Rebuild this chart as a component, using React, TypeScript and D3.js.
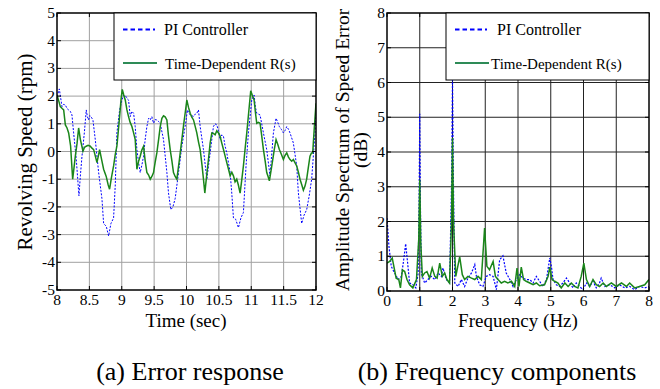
import React from "react";
import * as d3 from "d3";

// ---- Left plot data: time (s) vs speed error (rpm) ----
const tGreen = [8.0,8.03,8.051,8.08,8.103,8.129,8.155,8.18,8.21,8.242,8.262,8.283,8.31,8.334,8.36,8.401,8.425,8.452,8.48,8.514,8.54,8.566,8.59,8.617,8.64,8.658,8.69,8.72,8.76,8.79,8.812,8.84,8.874,8.9,8.925,8.945,8.967,8.99,9.008,9.03,9.054,9.08,9.105,9.13,9.157,9.18,9.208,9.234,9.26,9.285,9.31,9.337,9.36,9.388,9.415,9.44,9.465,9.491,9.515,9.542,9.57,9.594,9.62,9.645,9.67,9.697,9.72,9.748,9.775,9.799,9.825,9.851,9.89,9.928,9.955,9.979,10.005,10.03,10.057,10.08,10.108,10.135,10.159,10.185,10.211,10.24,10.262,10.283,10.31,10.339,10.365,10.391,10.415,10.442,10.468,10.494,10.519,10.545,10.571,10.595,10.622,10.65,10.674,10.7,10.725,10.75,10.776,10.8,10.828,10.855,10.879,10.905,10.931,10.96,10.992,11.02,11.044,11.065,11.085,11.11,11.136,11.16,11.188,11.215,11.239,11.26,11.28,11.305,11.332,11.358,11.383,11.41,11.434,11.465,11.496,11.52,11.548,11.575,11.599,11.625,11.65,11.675,11.702,11.728,11.753,11.78,11.805,11.83,11.856,11.88,11.907,11.93,11.949,11.975,12.0];
const vGreen = [2.04,1.8,1.62,1.55,1.5,0.96,0.85,0.67,0.2,-1.0,-0.6,-0.17,0.3,0.85,0.45,0.01,0.15,0.19,0.22,0.19,0.12,0.07,-0.15,-0.4,-0.15,0.07,-0.3,-0.64,-0.9,-1.2,-1.36,-0.95,-0.52,-0.1,0.19,0.7,1.26,1.9,2.24,2.05,1.86,1.5,1.26,1.05,0.9,0.7,0.43,-0.64,-0.35,-0.17,0.05,0.19,-0.3,-0.76,-0.85,-1.0,-0.9,-0.76,-0.4,-0.05,0.45,0.9,1.2,1.29,1.25,1.14,0.6,0.07,-0.35,-0.76,-0.9,-1.0,-0.3,0.43,0.95,1.38,1.86,1.6,1.38,1.25,1.14,0.9,0.67,0.35,0.07,-0.5,-1.0,-1.5,-0.9,-0.29,0.3,0.67,0.65,0.6,0.75,0.67,0.55,0.3,0.07,-0.15,-0.4,-0.65,-0.88,-0.75,-0.88,-1.1,-1.0,-1.2,-1.5,-1.0,-0.52,0.1,0.67,1.4,2.19,2.0,1.86,1.4,1.02,1.05,1.02,0.6,0.07,-0.35,-0.76,-0.9,-1.06,-0.7,-0.29,0.1,0.43,0.25,0.07,-0.1,-0.29,-0.15,-0.05,-0.2,-0.29,-0.35,-0.29,-0.4,-0.52,-0.75,-1.0,-1.2,-1.4,-1.25,-1.0,-0.6,-0.17,-0.05,-0.05,0.9,1.74];

const tBlue = [8.0,8.036,8.077,8.1,8.129,8.155,8.18,8.205,8.231,8.257,8.298,8.339,8.36,8.386,8.422,8.452,8.47,8.488,8.505,8.524,8.54,8.555,8.591,8.643,8.694,8.72,8.761,8.797,8.833,8.874,8.9,8.925,8.967,9.003,9.028,9.05,9.069,9.085,9.105,9.131,9.155,9.183,9.208,9.234,9.26,9.285,9.31,9.337,9.36,9.388,9.415,9.44,9.465,9.491,9.515,9.542,9.57,9.594,9.645,9.697,9.722,9.758,9.79,9.825,9.877,9.928,9.979,10.015,10.035,10.057,10.08,10.108,10.135,10.159,10.185,10.211,10.262,10.314,10.365,10.416,10.44,10.468,10.495,10.519,10.545,10.571,10.595,10.622,10.674,10.699,10.725,10.76,10.802,10.84,10.879,10.92,10.956,11.008,11.044,11.065,11.085,11.11,11.136,11.188,11.239,11.29,11.342,11.383,11.41,11.434,11.465,11.496,11.52,11.548,11.575,11.599,11.65,11.702,11.728,11.779,11.815,11.856,11.895,11.933,11.985,12.0];
const vBlue = [1.98,2.26,1.62,1.7,1.68,1.55,1.5,1.45,1.32,0.67,-0.29,-1.6,-0.9,-0.17,0.67,1.5,1.25,1.14,1.3,1.26,1.2,1.14,0.43,-0.76,-1.7,-2.6,-2.7,-3.05,-2.6,-2.4,-1.2,0.67,1.5,1.86,2.04,2.0,1.98,1.9,1.86,1.26,1.45,1.38,0.9,0.07,-0.4,-0.76,-0.5,-0.17,0.4,0.9,1.2,1.14,1.26,1.02,1.15,1.14,1.08,1.02,0.43,-0.76,-1.5,-2.1,-2.0,-1.7,-0.76,0.19,0.9,1.5,1.4,1.32,1.3,1.26,1.35,1.38,1.5,0.9,0.07,-1.0,-0.05,0.9,1.0,0.96,0.75,0.43,0.6,0.55,0.2,-0.05,-0.76,-1.5,-2.4,-2.45,-2.75,-2.4,-2.2,-0.5,0.67,1.86,2.04,1.6,1.38,1.35,1.32,0.67,0.07,-0.88,0.67,1.2,1.05,0.9,0.8,0.67,0.75,0.9,0.8,0.67,0.31,-0.52,-1.5,-2.6,-2.3,-2.1,-1.6,-1.0,0.67,1.5];

// ---- Right plot data: frequency (Hz) vs amplitude (dB) ----
const fBlue = [0,0.06,0.13,0.23,0.34,0.44,0.51,0.57,0.64,0.69,0.79,0.88,0.95,0.98,1.0,1.02,1.05,1.15,1.25,1.35,1.46,1.56,1.66,1.71,1.81,1.91,1.97,2.0,2.03,2.07,2.17,2.27,2.37,2.47,2.58,2.68,2.73,2.83,2.93,3.03,3.13,3.24,3.34,3.44,3.54,3.64,3.75,3.85,3.95,4.05,4.15,4.25,4.36,4.46,4.56,4.66,4.76,4.87,4.97,5.02,5.07,5.17,5.27,5.37,5.48,5.58,5.68,5.78,5.88,5.98,6.09,6.19,6.29,6.39,6.49,6.54,6.65,6.8,6.95,7.1,7.26,7.41,7.56,7.71,7.87,8.0];
const aBlue = [2.1,1.28,0.71,0.52,0.33,0.42,0.9,1.36,0.71,0.23,0.18,0.09,0.5,2.5,5.1,2.5,0.5,0.23,0.33,0.42,0.33,0.52,0.42,0.66,0.33,0.23,3.0,6.12,3.0,0.23,0.13,0.33,0.13,0.37,0.52,0.76,0.42,0.18,0.13,0.42,0.47,0.42,0.04,0.9,1.01,0.52,0.33,0.13,0.33,0.47,0.37,0.33,0.33,0.23,0.42,0.28,0.13,0.33,0.95,0.71,0.33,0.18,0.13,0.23,0.37,0.23,0.09,0.23,0.13,0.04,0.23,0.13,0.28,0.09,0.23,0.37,0.13,0.18,0.09,0.18,0.09,0.13,0.04,0.13,0.09,0.13];

const fGreen = [0,0.08,0.16,0.23,0.28,0.36,0.41,0.47,0.54,0.61,0.69,0.79,0.9,0.97,1.0,1.03,1.08,1.15,1.22,1.3,1.38,1.46,1.53,1.61,1.69,1.76,1.83,1.91,1.97,2.0,2.03,2.1,2.22,2.3,2.37,2.47,2.58,2.68,2.78,2.88,2.98,3.05,3.13,3.24,3.31,3.39,3.49,3.59,3.69,3.8,3.9,3.97,4.03,4.1,4.17,4.25,4.36,4.46,4.56,4.66,4.81,4.92,4.97,5.04,5.12,5.22,5.32,5.43,5.53,5.63,5.73,5.83,5.93,6.01,6.09,6.19,6.29,6.39,6.49,6.6,6.7,6.85,7.0,7.16,7.31,7.41,7.56,7.71,7.87,8.0];
const aGreen = [0.8,0.85,0.95,0.61,0.37,0.33,0.09,0.61,0.56,0.33,0.18,0.09,0.33,1.5,3.2,1.4,0.42,0.52,0.56,0.37,0.66,0.42,0.37,0.8,0.42,0.52,0.33,0.23,2.0,4.4,2.0,0.42,0.98,0.47,0.33,0.42,0.37,0.33,0.42,0.33,1.81,0.71,0.61,0.85,0.42,0.33,0.23,0.28,0.23,0.28,0.13,0.66,0.13,0.69,0.33,0.28,0.23,0.18,0.23,0.15,0.18,0.42,0.69,0.33,0.28,0.23,0.09,0.23,0.13,0.23,0.13,0.09,0.42,0.8,0.33,0.13,0.33,0.18,0.13,0.23,0.13,0.23,0.13,0.23,0.13,0.23,0.09,0.13,0.18,0.33];

const leftXTicks = [8, 8.5, 9, 9.5, 10, 10.5, 11, 11.5, 12];
const leftYTicks = [-5, -4, -3, -2, -1, 0, 1, 2, 3, 4, 5];
const rightXTicks = [0, 1, 2, 3, 4, 5, 6, 7, 8];
const rightYTicks = [0, 1, 2, 3, 4, 5, 6, 7, 8];

const seriesNames = ["PI Controller", "Time-Dependent R(s)"];
const BLUE = "#0000ff";
const GREEN = "#1a861a";
const FONT = "Liberation Serif";
const tx = { fontFamily: FONT };

function Panel(props: any) {
  const { x0, x1, y0, y1, xDomain, yDomain, xTicks, yTicks, gridColor, series, legendX, legendLineX0, legendTextX1, legendTextX2 } = props;
  const x = d3.scaleLinear().domain(xDomain).range([x0, x1]);
  const y = d3.scaleLinear().domain(yDomain).range([y1, y0]);
  return (
    <g>
      <defs>
        <clipPath id={"clip" + x0}>
          <rect x={x0} y={y0} width={x1 - x0} height={y1 - y0} />
        </clipPath>
      </defs>
      {xTicks.slice(1, -1).map((t: number) => (
        <line key={"gx" + t} x1={x(t)} x2={x(t)} y1={y0} y2={y1} stroke={gridColor} strokeWidth={1} />
      ))}
      {yTicks.slice(1, -1).map((t: number) => (
        <line key={"gy" + t} x1={x0} x2={x1} y1={y(t)} y2={y(t)} stroke={gridColor} strokeWidth={1} />
      ))}
      <g clipPath={`url(#clip${x0})`}>
        {series.map((s: any, i: number) => {
          const line = d3.line<number>().x((_, k) => x(s.xs[k])).y((v) => y(v));
          return (
            <path key={i} d={line(s.ys) || ""} fill="none" stroke={s.color} strokeWidth={s.width}
              strokeDasharray={s.dash} />
          );
        })}
      </g>
      {yTicks.map((t: number) => (
        <g key={"ty" + t}>
          <line x1={x0} x2={x0 + 4} y1={y(t)} y2={y(t)} stroke="#000" />
          <line x1={x1} x2={x1 - 4} y1={y(t)} y2={y(t)} stroke="#000" />
          <text x={x0 - 2} y={y(t) + 5} textAnchor="end" fontSize={15.5} style={tx}>{t}</text>
        </g>
      ))}
      {xTicks.map((t: number) => (
        <g key={"tx" + t}>
          <line x1={x(t)} x2={x(t)} y1={y1} y2={y1 - 4} stroke="#000" />
          <line x1={x(t)} x2={x(t)} y1={y0} y2={y0 + 4} stroke="#000" />
          <text x={x(t)} y={y1 + 15} textAnchor="middle" fontSize={15.5} style={tx}>{String(t)}</text>
        </g>
      ))}
      <rect x={x0} y={y0} width={x1 - x0} height={y1 - y0} fill="none" stroke="#000" strokeWidth={1.5} />
      <rect x={legendX} y={y0} width={x1 - legendX} height={67} fill="#fff" stroke="#000" strokeWidth={1} />
      <line x1={legendLineX0} x2={legendLineX0 + 32} y1={y0 + 16.5} y2={y0 + 16.5} stroke={BLUE} strokeWidth={2.2} strokeDasharray="4.5,3" />
      <text x={legendTextX1} y={y0 + 22} fontSize={16} style={tx}>{seriesNames[0]}</text>
      <line x1={legendLineX0} x2={legendLineX0 + 34} y1={y0 + 50} y2={y0 + 50} stroke="#2e8b57" strokeWidth={2.2} />
      <text x={legendTextX2} y={y0 + 56} fontSize={15} style={tx}>{seriesNames[1]}</text>
    </g>
  );
}

export default function App() {
  return (
    <div style={{ position: "absolute", left: 0, top: 0 }}>
      <svg width={660} height={389} style={{ display: "block", background: "#fff", fontFamily: FONT }}>
        <Panel x0={57} x1={316} y0={13} y1={290} xDomain={[8, 12]} yDomain={[-5, 5]}
          xTicks={leftXTicks} yTicks={leftYTicks} gridColor="#a0a0a0"
          legendX={114} legendLineX0={123} legendTextX1={164} legendTextX2={165}
          series={[
            { xs: tBlue, ys: vBlue, color: BLUE, width: 1, dash: "2,1.5" },
            { xs: tGreen, ys: vGreen, color: GREEN, width: 1.5, dash: null },
          ]} />
        <Panel x0={387} x1={649} y0={13} y1={291} xDomain={[0, 8]} yDomain={[0, 8]}
          xTicks={rightXTicks} yTicks={rightYTicks} gridColor="#222"
          legendX={446} legendLineX0={455} legendTextX1={497} legendTextX2={491}
          series={[
            { xs: fBlue, ys: aBlue, color: BLUE, width: 1.2, dash: "2,1.5" },
            { xs: fGreen, ys: aGreen, color: GREEN, width: 1.5, dash: null },
          ]} />
        <text transform="translate(32,152) rotate(-90)" textAnchor="middle" fontSize={21} style={tx}>Revolving Speed (rpm)</text>
        <text transform="translate(349,150) rotate(-90)" textAnchor="middle" fontSize={19.5} style={tx}>Amplitude Spectrum of Speed Error</text>
        <text transform="translate(367,150) rotate(-90)" textAnchor="middle" fontSize={19.5} style={tx}>(dB)</text>
        <text x={186} y={327} textAnchor="middle" fontSize={19} style={tx}>Time (sec)</text>
        <text x={518} y={327} textAnchor="middle" fontSize={19} style={tx}>Frequency (Hz)</text>
        <text x={190} y={380} textAnchor="middle" fontSize={26} style={tx}>(a) Error response</text>
        <text x={497} y={380} textAnchor="middle" fontSize={26} style={tx}>(b) Frequency components</text>
      </svg>
    </div>
  );
}
